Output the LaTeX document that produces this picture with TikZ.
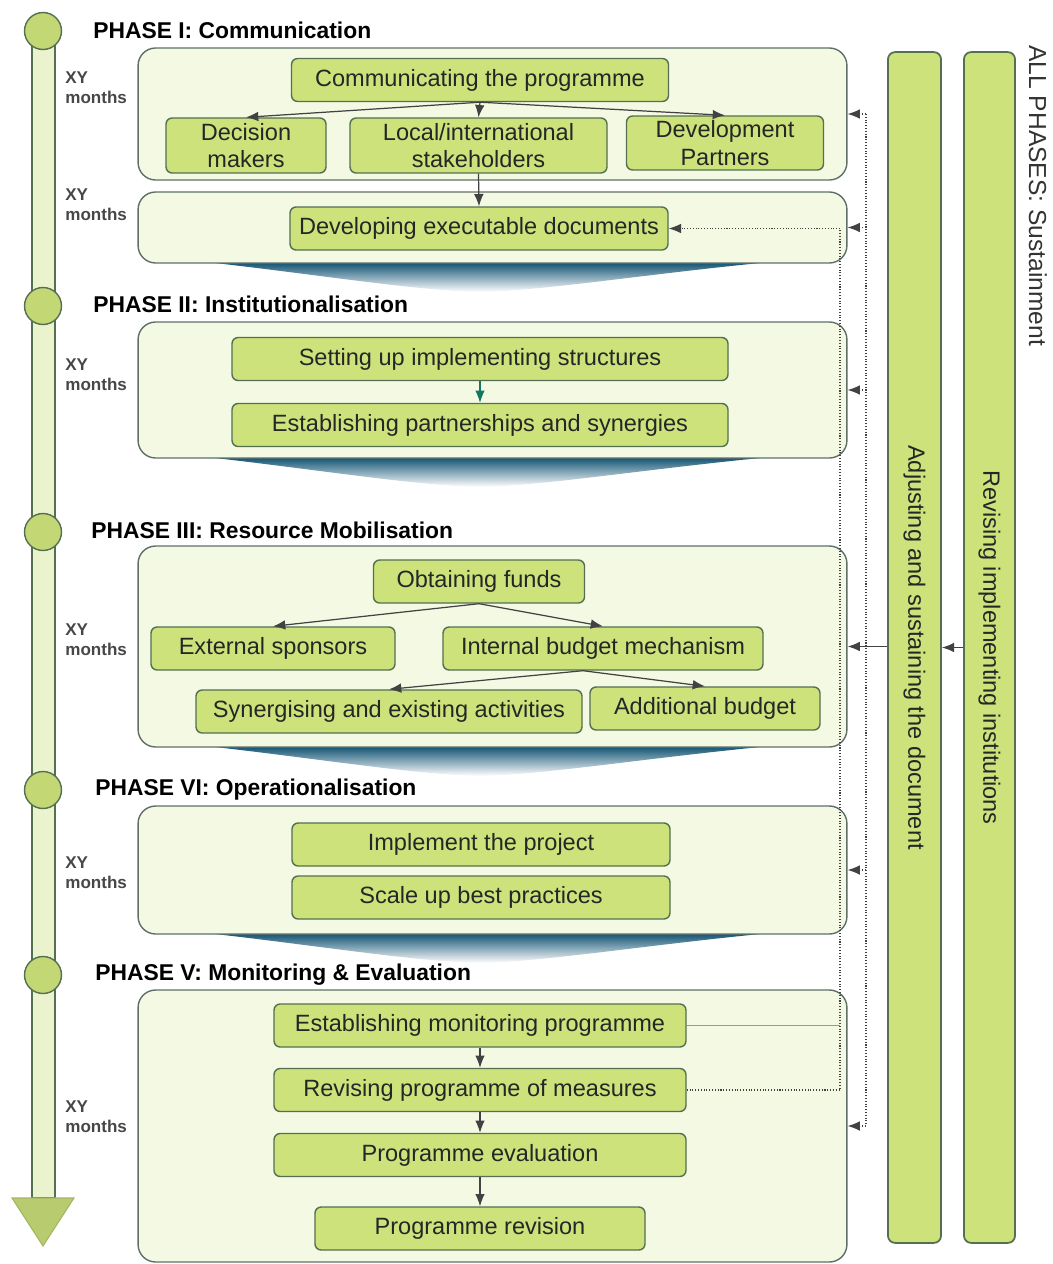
\documentclass[tikz,border=0pt]{standalone}
\usepackage{fontspec}
\setmainfont{Liberation Sans}
\usetikzlibrary{arrows,arrows.meta,positioning}
\definecolor{leaf}{RGB}{205,226,123}
\definecolor{pale}{RGB}{244,249,228}
\definecolor{edge}{RGB}{84,112,80}
\definecolor{frame}{RGB}{96,112,104}
\definecolor{ink}{RGB}{66,66,66}
\definecolor{deep}{RGB}{22,86,118}
\definecolor{rail}{RGB}{234,243,206}
\tikzset{phase/.style={draw=frame, fill=pale, rounded corners=10pt, line width=0.8pt, minimum width=14.18cm, minimum height=#1*0.02cm}, task/.style={draw=edge, fill=leaf, rounded corners=3.5pt, line width=0.8pt, minimum width=#1*0.02cm, minimum height=0.86cm, inner sep=1pt, align=center, text=black!85, font=\fontsize{13.4}{15.5}\selectfont}, title/.style={anchor=west, inner sep=0pt, font=\fontsize{13}{15}\selectfont\bfseries}, span/.style={anchor=west, align=left, inner sep=0pt, text=black!72, font=\fontsize{9.7}{11.3}\selectfont\bfseries}, stop/.style={circle, draw=edge, fill=leaf!95!black, line width=0.8pt, minimum size=0.74cm, inner sep=0pt}, pillar/.style={draw=edge, fill=leaf, rounded corners=4pt, line width=1pt, minimum width=#1*0.02cm, minimum height=23.82cm}, upright/.style={rotate=-90, text=black!85, font=\fontsize{13.4}{15.5}\selectfont}, tip/.style={-{Latex[length=7pt,width=5.5pt]}}, flow/.style={tip, draw=ink, line width=0.7pt}, dots/.style={draw=ink, densely dotted, line width=0.6pt}}

\begin{document}
\begin{tikzpicture}[x=0.02cm,y=-0.02cm]
    \useasboundingbox (0,0) rectangle (1052,1264);
    \draw[draw=edge, fill=rail, line width=0.8pt] (32,31) rectangle (55,1198);
    \draw[draw=leaf!80!black, fill=leaf!90!black, line width=0.6pt] (12,1198) -- (74,1198) -- (43,1246) -- cycle;
    \foreach \n/\y in {t1/31,t2/306,t3/532,t4/790,t5/975} \node[stop] (\n) at (43,\y) {};
    \foreach \y in {263,458,747,934} \shade[top color=deep, bottom color=white] (215,\y) -- (760,\y) .. controls (640,\y+12) and (540,\y+28) .. (480,\y+29) .. controls (420,\y+28) and (320,\y+12) .. (215,\y) -- cycle;

    \node[phase=132] (ph1a) at (492.5,114) {};
    \node[phase=71] (ph1b) at (492.5,227.5) {};
    \node[phase=136] (ph2) at (492.5,390) {};
    \node[phase=201] (ph3) at (492.5,646.5) {};
    \node[phase=128] (ph4) at (492.5,870) {};
    \node[phase=272] (ph5) at (492.5,1126) {};

    \node[title] (h1) at (93,30) {PHASE I: Communication};
    \node[title] (h2) at (93,304) {PHASE II: Institutionalisation};
    \node[title] (h3) at (91,530) {PHASE III: Resource Mobilisation};
    \node[title] (h4) at (95,790) {PHASE VI: Operationalisation};
    \node[title] (h5) at (95,975) {PHASE V: Monitoring \& Evaluation};
    \foreach \n/\y in {m1/88,m2/205,m3/375,m4/640,m5/873,m6/1117} \node[span] (\n) at (65,\y) {XY\\months};

    \node[task=377] (comm) at (480,80) {Communicating the programme};
    \node[task=160, minimum height=1.1cm] (dm) at (246,145.5) {Decision\\makers};
    \node[task=257, minimum height=1.1cm] (lis) at (478.5,145.5) {Local/international\\stakeholders};
    \node[task=197, minimum height=1.08cm] (dp) at (725,143) {Development\\Partners};
    \node[task=378] (ded) at (479,228.5) {Developing executable documents};
    \node[task=496] (sis) at (480,359) {Setting up implementing structures};
    \node[task=496] (eps) at (480,425) {Establishing partnerships and synergies};
    \node[task=211] (ofu) at (479,581.5) {Obtaining funds};
    \node[task=244] (ext) at (273,648.5) {External sponsors};
    \node[task=320] (ibm) at (603,648.5) {Internal budget mechanism};
    \node[task=386] (syn) at (389,711.5) {Synergising and existing activities};
    \node[task=230] (add) at (705,708.5) {Additional budget};
    \node[task=378] (imp) at (481,844.5) {Implement the project};
    \node[task=378] (sub) at (481,897.5) {Scale up best practices};
    \node[task=412] (emp) at (480,1025.5) {Establishing monitoring programme};
    \node[task=412] (rpm) at (480,1090) {Revising programme of measures};
    \node[task=412] (pev) at (480,1155) {Programme evaluation};
    \node[task=330] (prv) at (480,1228.5) {Programme revision};

    \node[pillar=53] (adj) at (914.5,647.5) {};
    \node[pillar=51] (rev) at (989.5,647.5) {};
    \node[upright] (adjt) at (adj) {Adjusting and sustaining the document};
    \node[upright] (revt) at (rev) {Revising implementing institutions};
    \node[upright, anchor=west, inner sep=0pt, text=black!80, font=\fontsize{14}{16}\selectfont] (all) at (1038,45) {ALL PHASES: Sustainment};

    \draw[flow] (comm.south) -- (dm.north);
    \draw[flow] (comm.south) -- (lis.north);
    \draw[flow] (comm.south) -- (dp.north);
    \draw[flow] (lis.south) -- (ded.north);
    \draw[flow, draw=deep!80!green] (sis) -- (eps);
    \draw[flow] (ofu.south) -- (ext.north);
    \draw[flow] (ofu.south) -- (ibm.north);
    \draw[flow] ([xshift=-0.4cm]ibm.south) -- (syn.north);
    \draw[flow] ([xshift=-0.4cm]ibm.south) -- (add.north);
    \draw[flow] (emp) -- (rpm);
    \draw[flow] (rpm) -- (pev);
    \draw[flow] (pev) -- (prv);

    \coordinate (bus) at (866,0);
    \coordinate (loop) at (840,0);
    \draw[dots] (bus |- ph1a.east) -- (bus |- ph5.east);
    \foreach \p in {ph1a,ph1b,ph2,ph4,ph5} \draw[dots, tip] (bus |- \p.east) -- (\p.east);
    \draw[flow] (adj.west |- ph3.east) -- (ph3.east);
    \draw[flow] (rev.west) -- (adj.east);
    \draw[dots, tip] (rpm.east) -- (loop |- rpm.east) -- (loop |- ded.east) -- (ded.east);
    \draw[draw=black!40, line width=0.8pt] (emp.east) -- (loop |- emp.east);
\end{tikzpicture}
\end{document}
